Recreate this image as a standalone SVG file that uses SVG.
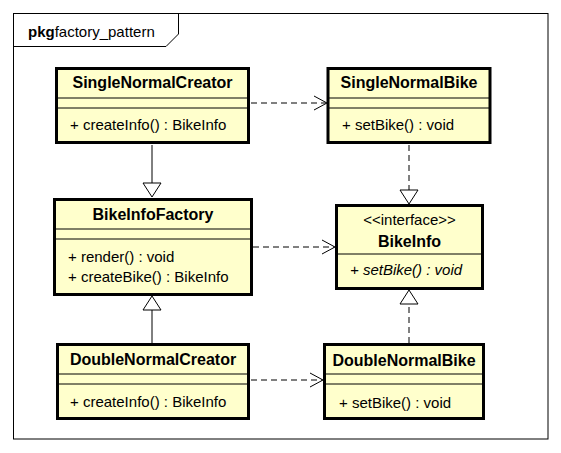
<svg xmlns="http://www.w3.org/2000/svg" width="561" height="453" viewBox="0 0 561 453">
<style>
text{font-family:"Liberation Sans",Arial,sans-serif;font-size:15px;fill:#000}
.nm{font-weight:bold;text-anchor:middle;font-size:16px}
.st{text-anchor:middle}
.it{font-style:italic}
.box{fill:#ffffcc;stroke:#000;stroke-width:3}
.sep{stroke:#000;stroke-width:1}
.ln{fill:none;stroke:#000;stroke-width:1}
.dash{stroke-dasharray:6,4}
.tri{fill:#fff;stroke:#000;stroke-width:1}
</style>
<rect width="561" height="453" fill="#fff"/>
<g id="frame">
<rect x="13.5" y="13.5" width="534.5" height="425.5" fill="none" stroke="#000" stroke-width="1"/>
<path d="M13.5,46.5 H166 L178.5,34 V13.5" fill="none" stroke="#000" stroke-width="1"/>
<text x="28" y="37" font-size="15.4"><tspan font-weight="bold">pkg</tspan>factory_pattern</text>
</g>
<g id="connectors">
<line class="ln dash" x1="251" y1="103" x2="326" y2="103"/>
<polyline class="ln" points="314,96 327,103 314,110"/>
<line class="ln dash" x1="409" y1="145" x2="409" y2="190"/>
<polygon class="tri" points="400,190 418,190 409,204"/>
<line class="ln" x1="152" y1="145" x2="152" y2="183"/>
<polygon class="tri" points="143,183 161,183 152,197"/>
<line class="ln dash" x1="253" y1="247" x2="334" y2="247"/>
<polyline class="ln" points="322,240 335,247 322,254"/>
<line class="ln" x1="152" y1="343" x2="152" y2="310"/>
<polygon class="tri" points="143,310 161,310 152,296"/>
<line class="ln dash" x1="409" y1="343" x2="409" y2="304"/>
<polygon class="tri" points="400,304 418,304 409,290"/>
<line class="ln dash" x1="251" y1="380" x2="322" y2="380"/>
<polyline class="ln" points="310,373 323,380 310,387"/>
</g>
<g id="SingleNormalCreator">
<rect class="box" x="56.5" y="68.5" width="192" height="74"/>
<line class="sep" x1="56" y1="98" x2="249" y2="98"/>
<line class="sep" x1="56" y1="108" x2="249" y2="108"/>
<text class="nm" x="152.5" y="88">SingleNormalCreator</text>
<text x="70" y="130">+ createInfo() : BikeInfo</text>
</g>
<g id="SingleNormalBike">
<rect class="box" x="328" y="68.5" width="162" height="74"/>
<line class="sep" x1="328" y1="98" x2="490" y2="98"/>
<line class="sep" x1="328" y1="108" x2="490" y2="108"/>
<text class="nm" x="409" y="88">SingleNormalBike</text>
<text x="342" y="130">+ setBike() : void</text>
</g>
<g id="BikeInfoFactory">
<rect class="box" x="54.5" y="199.5" width="197" height="95"/>
<line class="sep" x1="54" y1="229" x2="252" y2="229"/>
<line class="sep" x1="54" y1="239" x2="252" y2="239"/>
<text class="nm" x="153" y="220">BikeInfoFactory</text>
<text x="68" y="262">+ render() : void</text>
<text x="68" y="282">+ createBike() : BikeInfo</text>
</g>
<g id="BikeInfo">
<rect class="box" x="336.5" y="205.5" width="146" height="83"/>
<line class="sep" x1="336" y1="254" x2="483" y2="254"/>
<text class="st" x="409.5" y="225">&lt;&lt;interface&gt;&gt;</text>
<text class="nm" x="409.5" y="247">BikeInfo</text>
<text class="it" x="350" y="275">+ setBike() : void</text>
</g>
<g id="DoubleNormalCreator">
<rect class="box" x="57.5" y="344.5" width="191" height="74"/>
<line class="sep" x1="57" y1="374" x2="249" y2="374"/>
<line class="sep" x1="57" y1="384" x2="249" y2="384"/>
<text class="nm" x="153" y="365">DoubleNormalCreator</text>
<text x="70" y="407">+ createInfo() : BikeInfo</text>
</g>
<g id="DoubleNormalBike">
<rect class="box" x="324.5" y="344.5" width="159" height="74"/>
<line class="sep" x1="324" y1="374" x2="484" y2="374"/>
<line class="sep" x1="324" y1="384" x2="484" y2="384"/>
<text class="nm" x="404" y="366">DoubleNormalBike</text>
<text x="339" y="408">+ setBike() : void</text>
</g>
</svg>
